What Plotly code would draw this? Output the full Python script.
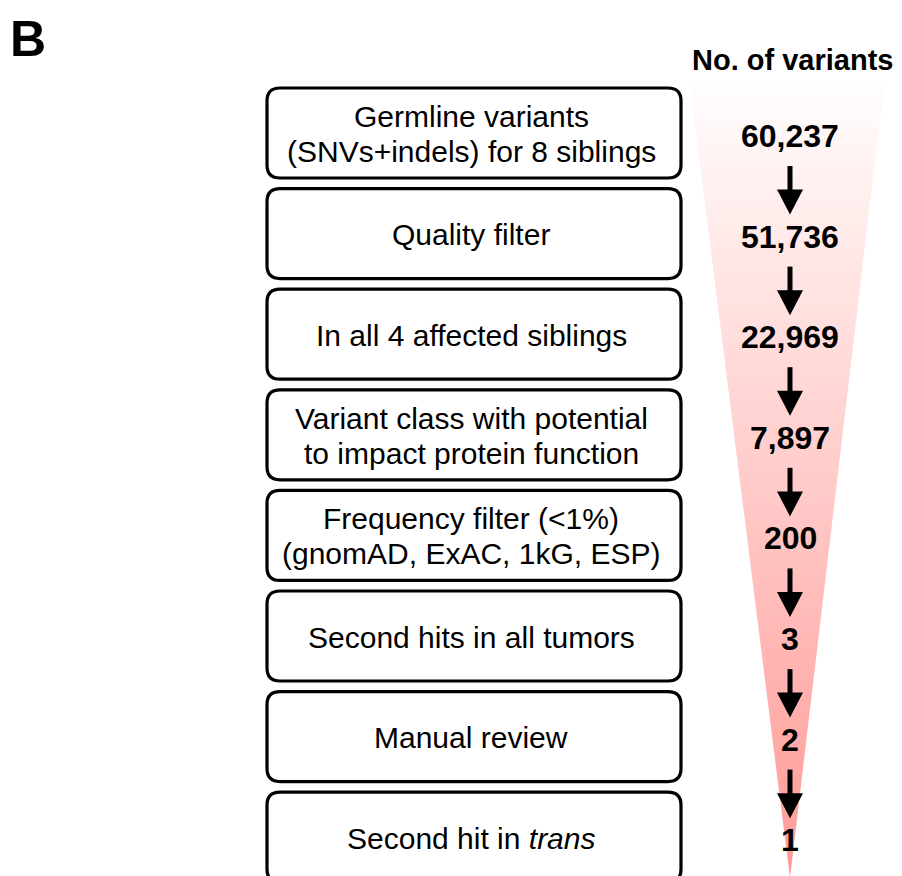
import plotly.graph_objects as go

steps = [
    "Germline variants<br>(SNVs+indels) for 8 siblings",
    "Quality filter",
    "In all 4 affected siblings",
    "Variant class with potential<br>to impact protein function",
    "Frequency filter (<1%)<br>(gnomAD, ExAC, 1kG, ESP)",
    "Second hits in all tumors",
    "Manual review",
    "Second hit in <i>trans</i>",
]
counts = [60237, 51736, 22969, 7897, 200, 3, 2, 1]

W, H = 902, 876
OFF = 8  # page body margin
box_x0, box_x1 = 267, 681
box_top0, box_h, pitch = 88, 90, 100.6
r = 13
cx_count = 790
FONT = "Liberation Sans, Arial"

fig = go.Figure()

# funnel triangle with vertical gradient
fig.add_trace(go.Scatter(
    x=[690, 884, 790, 690], y=[85, 85, 878, 85],
    mode="lines", line=dict(width=0), fill="toself",
    fillgradient=dict(type="vertical",
                      colorscale=[[0, "#FF9A96"], [0.5, "#FFCBC9"], [1, "#FFFDFD"]]),
    hoverinfo="skip", showlegend=False,
))

shapes = []
annotations = []
for i, (label, n) in enumerate(zip(steps, counts)):
    top = box_top0 + pitch * i
    bot = top + box_h
    x0, x1 = box_x0, box_x1
    path = (f"M {x0+r},{top} L {x1-r},{top} Q {x1},{top} {x1},{top+r} "
            f"L {x1},{bot-r} Q {x1},{bot} {x1-r},{bot} L {x0+r},{bot} "
            f"Q {x0},{bot} {x0},{bot-r} L {x0},{top+r} Q {x0},{top} {x0+r},{top} Z")
    shapes.append(dict(type="path", path=path, xref="x", yref="y",
                       line=dict(color="black", width=3.2), fillcolor="white", layer="above"))
    cy = top + box_h / 2
    lines = label.split("<br>")
    nl = len(lines)
    for j, ln in enumerate(lines):
        ly = cy + (j - (nl - 1) / 2) * 35 + 1
        annotations.append(dict(x=471, y=ly, xref="x", yref="y", text=ln, showarrow=False,
                                font=dict(family=FONT, size=30, color="black"),
                                xanchor="center", yanchor="middle"))
    ncy = cy + 3
    annotations.append(dict(x=cx_count, y=ncy, xref="x", yref="y", text=f"<b>{n:,}</b>",
                            showarrow=False,
                            font=dict(family=FONT, size=32, color="black"),
                            xanchor="center", yanchor="middle"))
    if i < len(counts) - 1:
        a_top = ncy + 30
        a_tip = cy + pitch + 3 - 22
        head = a_tip - 25
        shapes.append(dict(type="line", x0=cx_count, x1=cx_count, y0=a_top, y1=head + 1,
                           xref="x", yref="y", line=dict(color="black", width=5), layer="above"))
        shapes.append(dict(type="path",
                           path=f"M {cx_count-13},{head} L {cx_count+13},{head} L {cx_count},{a_tip} Z",
                           xref="x", yref="y", line=dict(color="black", width=0),
                           fillcolor="black", layer="above"))

annotations.append(dict(x=792, y=60, xref="x", yref="y", text="<b>No. of variants</b>",
                        showarrow=False, font=dict(family=FONT, size=29, color="black"),
                        xanchor="center", yanchor="middle"))
annotations.append(dict(x=28, y=OFF + 0.5, xref="x", yref="y", text="<b>B</b>",
                        showarrow=False, font=dict(family=FONT, size=50, color="black"),
                        xanchor="center", yanchor="top"))

fig.update_layout(
    width=W - OFF, height=H - OFF, margin=dict(l=0, r=0, t=0, b=0),
    paper_bgcolor="white", plot_bgcolor="white",
    xaxis=dict(range=[OFF, W], visible=False, fixedrange=True),
    yaxis=dict(range=[H, OFF], visible=False, fixedrange=True),
    shapes=shapes, annotations=annotations, showlegend=False,
)
fig.write_html("out.html")
